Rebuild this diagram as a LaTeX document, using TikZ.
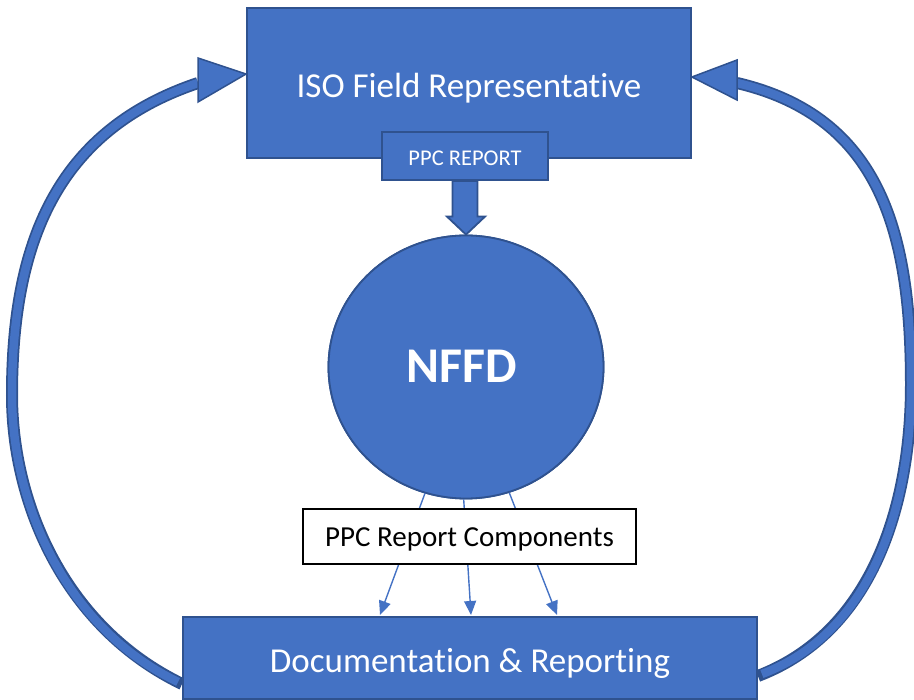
\documentclass[tikz,border=0pt]{standalone}
\usepackage{fontspec}
\setmainfont[Ligatures=NoCommon]{Carlito}
\usetikzlibrary{shapes.geometric,arrows.meta,calc}
\definecolor{fillblue}{HTML}{4472C4}
\definecolor{edgeblue}{HTML}{2F528F}
\newcommand{\lowered}[2]{\raisebox{-#1}[0pt][0pt]{#2}}
\begin{document}
\begin{tikzpicture}[x=1pt,y=-1pt,
  bluebox/.style={rectangle,draw=edgeblue,fill=fillblue,line width=1.8pt,text=white,inner sep=0pt},
  bigtext/.style={font=\fontsize{35}{40}\selectfont},
  shaftouter/.style={draw=edgeblue,line width=12pt},
  shaftinner/.style={draw=fillblue,line width=8.5pt},
  headshape/.style={draw=edgeblue,fill=fillblue,line width=1.5pt,line join=miter},
  thinarrow/.style={draw=fillblue,line width=1.4pt,-{Triangle[width=12pt,length=14pt]}},
  circlenode/.style={ellipse,draw=edgeblue,fill=fillblue,line width=1.8pt,inner sep=0pt,minimum width=275pt,
      minimum height=263pt,text=white,font=\fontsize{50}{56}\selectfont\bfseries}]
\useasboundingbox (0,0) rectangle (914,700);

% nodes
\node[bluebox,minimum width=444pt,minimum height=150pt] (iso) at (469,83) {};
\node[bluebox,minimum width=574pt,minimum height=82pt] (doc) at (470,658) {};
\node[circlenode] (nffd) at (466,367) {};

% left curved arrow
\coordinate (lstart) at ($(doc.west)+(0,26)$);
\coordinate (lmid) at (12,395);
\coordinate (lend) at (198,83);
\path[shaftouter] (lstart) .. controls (66,628) and (12,505) .. (lmid) .. controls (12,245) and (55,131) .. (lend);
\path[shaftinner] ($(lstart)+(-4,-2)$) .. controls (66,628) and (12,505) .. (lmid) .. controls (12,245) and (55,131) .. (lend);
\path[headshape] ($(iso.west)+(0,-9)$) -- (198,58) -- (198,102) -- cycle;

% right curved arrow
\coordinate (rstart) at ($(doc.east)+(0,18)$);
\coordinate (rmid) at (911,385);
\coordinate (rend) at (737,83);
\path[shaftouter] (rstart) .. controls (878,630) and (911,495) .. (rmid) .. controls (911,235) and (882,117) .. (rend);
\path[shaftinner] ($(rstart)+(4,-2)$) .. controls (878,630) and (911,495) .. (rmid) .. controls (911,235) and (882,117) .. (rend);
\path[headshape] ($(iso.east)+(0,-6)$) -- (737,60) -- (737,100) -- cycle;

% boxes on top of arrows
\node[bluebox,bigtext,minimum width=444pt,minimum height=150pt] at (iso) {\lowered{15pt}{ISO Field Representative}};
\node[bluebox,minimum width=166pt,minimum height=48pt,font=\fontsize{22.5}{26}\selectfont] (ppc) at (465,156) {\lowered{10pt}{PPC REPORT}};

% block arrow PPC REPORT -> NFFD
\path[headshape,line width=1.8pt] ($(ppc.south)+(-12.5,0)$) -- ($(ppc.south)+(12.5,0)$) -- ($(nffd.north)+(11.5,-18)$)
  -- ($(nffd.north)+(19,-18)$) -- (nffd.north) -- ($(nffd.north)+(-19,-18)$) -- ($(nffd.north)+(-13.5,-18)$) -- cycle;
\node[circlenode] at (nffd) {\hspace*{-8pt}\lowered{16pt}{NFFD}};

% thin arrows
\coordinate (d1) at (380,615);
\coordinate (d2) at (471,615);
\coordinate (d3) at (557,615);
\draw[thinarrow] (nffd.252) -- (d1);
\draw[thinarrow] (nffd.269) -- (d2);
\draw[thinarrow] (nffd.289) -- (d3);

\node[rectangle,draw=black,fill=white,line width=1.2pt,minimum width=333pt,minimum height=55pt,inner sep=0pt,
      font=\fontsize{29}{33}\selectfont] (comp) at (469.5,536.5) {\lowered{9.5pt}{PPC Report Components}};

\node[bluebox,bigtext,minimum width=574pt,minimum height=82pt] at (doc) {\lowered{15pt}{Documentation \& Reporting}};
\end{tikzpicture}
\end{document}
